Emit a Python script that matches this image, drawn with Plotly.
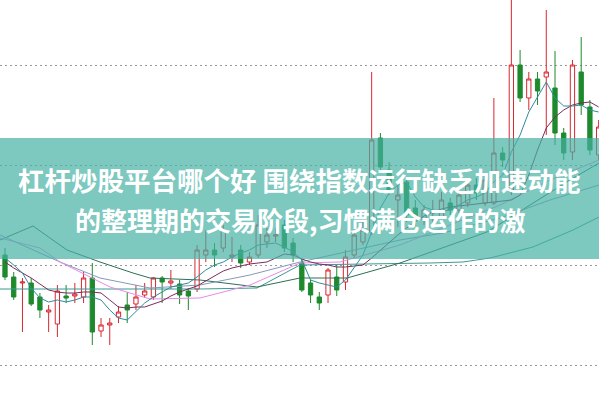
import plotly.graph_objects as go

# ---------------- data ----------------
idx = list(range(69))
open_ = [14.5,12.3,11.7,11.7,10.3,8.8,7.6,10.4,10.4,10.3,12.2,6.9,7.5,8.3,9.5,9.6,10.5,10.3,12.2,11.7,
         11.6,10.9,11.1,14.5,15.0,15.2,14.3,15.0,13.8,14.5,15.8,16.4,17.5,15.7,13.7,11.7,10.3,10.5,12.3,11.8,
         14.5,15.8,16.8,26.2,23.0,20.0,21.8,19.2,18.0,18.7,18.2,19.7,19.0,19.7,21.5,19.7,19.7,24.7,21.0,33.5,
         30.2,32.1,32.3,31.2,26.7,24.8,32.8,29.3,24.5]
high_ = [15.2,12.8,12.2,12.2,10.7,9.5,11.5,11.5,11.7,12.8,13.7,8.2,8.2,9.4,10.8,11.5,11.7,12.3,12.4,13.0,
         12.0,11.2,15.5,17.0,15.7,17.5,16.3,15.5,14.8,18.5,17.2,17.2,18.0,16.2,14.2,12.0,10.8,13.2,13.5,15.0,
         17.0,17.8,32.8,26.7,23.8,21.5,22.2,20.0,19.5,20.0,20.8,20.2,21.0,22.0,22.2,22.5,30.2,25.3,41.0,35.0,
         32.8,32.8,39.0,34.9,27.2,34.0,36.3,30.0,28.0]
low_ = [12.0,10.0,6.8,9.4,8.2,6.8,6.3,9.7,9.7,9.7,5.5,6.3,5.5,7.7,7.7,9.0,10.2,10.0,9.7,11.1,
        9.6,9.0,10.8,13.8,13.3,14.8,13.8,13.2,13.5,14.2,15.2,15.8,14.8,13.8,10.8,9.7,9.0,9.7,10.4,11.0,
        14.2,15.5,16.5,23.0,20.5,17.3,17.8,17.2,17.5,17.8,17.5,18.5,18.7,19.3,20.0,19.4,19.5,23.3,20.5,29.8,
        29.0,29.5,26.5,25.5,24.0,24.0,28.5,24.5,24.0]
close_ = [12.3,10.3,11.8,9.6,9.0,9.0,10.9,10.2,10.6,12.2,6.8,7.5,7.7,8.8,9.0,10.3,10.9,12.2,11.8,11.9,
          10.5,10.4,15.0,15.0,14.5,17.0,14.5,13.7,14.3,17.5,16.5,16.5,15.2,14.5,11.0,10.5,9.7,13.0,11.0,14.3,
          16.5,17.0,26.0,23.3,21.0,20.5,18.5,18.0,19.0,18.8,20.0,19.0,20.5,21.5,20.7,22.0,24.7,24.0,33.5,30.2,
          32.1,30.9,32.8,26.7,24.7,33.5,29.5,25.0,27.3]

ma5 = [14.2,13.5,12.7,11.2,10.2,9.8,10.0,9.8,10.0,10.3,10.3,10.0,9.0,8.2,8.0,8.8,9.7,10.3,10.8,11.3,
       11.5,11.7,12.3,13.0,13.5,13.8,14.3,14.7,15.0,15.5,15.6,15.7,15.3,14.8,14.0,12.0,11.7,11.5,11.3,12.0,
       13.2,14.5,16.8,19.2,20.7,21.5,21.8,20.3,19.3,19.0,18.9,19.0,19.5,20.0,20.3,20.7,21.8,22.5,24.8,26.5,
       28.8,30.3,31.8,30.2,29.4,29.4,29.5,29.0,28.8]
ma10 = [13.8,13.2,12.7,12.2,11.6,11.0,10.8,10.7,10.7,10.8,10.8,10.7,10.0,9.3,9.2,9.3,9.3,9.6,9.9,10.4,
        10.8,11.1,11.4,11.9,12.4,12.9,13.2,13.4,13.6,13.7,13.8,14.2,14.6,14.5,14.1,13.8,13.6,13.5,13.3,13.3,
        13.4,13.5,14.2,15.0,15.7,16.5,17.2,17.8,18.4,18.8,19.1,19.3,19.4,19.5,19.6,19.7,19.8,19.9,20.0,20.5,
        22.5,25.0,27.2,28.3,29.0,29.5,29.7,29.8,29.3]

dg_x = [-0.57,3.21,7.10,10.88,14.66,16.61,22.34,28.87,33.79,39.18,45.25,50.97,55.21,60.14,64.72,68.04]
dg_y = [16.0,17.4,15.0,13.8,12.7,12.2,12.0,11.3,12.2,12.2,13.7,15.5,16.8,19.5,22.0,23.7]
st_x = [-0.57,22.34,28.87,33.79,48.68,52.46,55.56,60.48,65.06,68.04]
st_y = [11.1,11.1,11.2,13.5,13.7,13.8,14.2,15.3,17.0,18.3]
pk_x = [-0.57,4.01,6.30,12.03,16.61,22.34,28.06,33.79,38.37,45.25,50.97,56.70,62.43,68.04]
pk_y = [16.2,15.2,13.8,11.3,10.1,10.2,11.5,13.7,13.8,15.5,17.5,19.5,22.0,24.0]
gb_x = [-0.57,6.30,10.88,16.61,22.34,28.06,33.79,45.25,50.17,56.70,62.43,68.04]
gb_y = [16.5,13.8,12.2,11.2,11.5,12.5,13.8,16.0,16.7,18.2,20.0,21.5]

title_line1 = "杠杆炒股平台哪个好 围绕指数运行缺乏加速动能"
title_line2 = "的整理期的交易阶段,习惯满仓运作的激"

# ---------------- figure ----------------
fig = go.Figure()

fig.add_trace(go.Scatter(x=st_x, y=st_y, mode="lines", line=dict(color="#3b9a94", width=1), hoverinfo="skip"))
fig.add_trace(go.Scatter(x=dg_x, y=dg_y, mode="lines", line=dict(color="#2f6f55", width=1), hoverinfo="skip"))
fig.add_trace(go.Scatter(x=gb_x, y=gb_y, mode="lines", line=dict(color="#8799bb", width=1), hoverinfo="skip"))
fig.add_trace(go.Scatter(x=pk_x, y=pk_y, mode="lines", line=dict(color="#e58be8", width=1), hoverinfo="skip"))
fig.add_trace(go.Scatter(x=idx, y=ma10, mode="lines", line=dict(color="#7b2d5b", width=1), hoverinfo="skip"))
fig.add_trace(go.Scatter(x=idx, y=ma5, mode="lines", line=dict(color="#2d8c9e", width=1), hoverinfo="skip"))

fig.add_trace(go.Candlestick(
    x=idx, open=open_, high=high_, low=low_, close=close_,
    increasing=dict(line=dict(color="#d9262f", width=1), fillcolor="#ffffff"),
    decreasing=dict(line=dict(color="#1d8a2c", width=1), fillcolor="#1d8a2c"),
    whiskerwidth=0, hoverinfo="skip",
))

fig.add_shape(type="rect", xref="paper", yref="paper", x0=0, x1=1,
              y0=1 - 259 / 399, y1=1 - 138 / 399,
              fillcolor="rgba(70,177,164,0.70)", line=dict(width=0), layer="above")

for txt, yc, sz in [(title_line1, 1 - 179 / 399, 26.5), (title_line2, 1 - 219 / 399, 26)]:
    fig.add_annotation(text=txt, xref="paper", yref="paper", x=0.5, y=yc,
                       xanchor="center", yanchor="middle", showarrow=False,
                       font=dict(family="Noto Sans CJK SC", size=sz, color="#ffffff", weight="bold"))

fig.update_layout(
    width=599, height=399, margin=dict(l=0, r=0, t=0, b=0),
    paper_bgcolor="#ffffff", plot_bgcolor="#ffffff", showlegend=False,
    xaxis=dict(range=[-0.573, 68.04], visible=False, rangeslider=dict(visible=False), fixedrange=True),
    yaxis=dict(range=[0.1, 40], showticklabels=False, zeroline=False, showline=False,
               showgrid=True, gridcolor="#9a9a9a", griddash="2px,3px", gridwidth=1,
               tick0=3.5, dtick=10, ticks="", fixedrange=True),
)

fig.write_html("out.html", config={"displayModeBar": False})
